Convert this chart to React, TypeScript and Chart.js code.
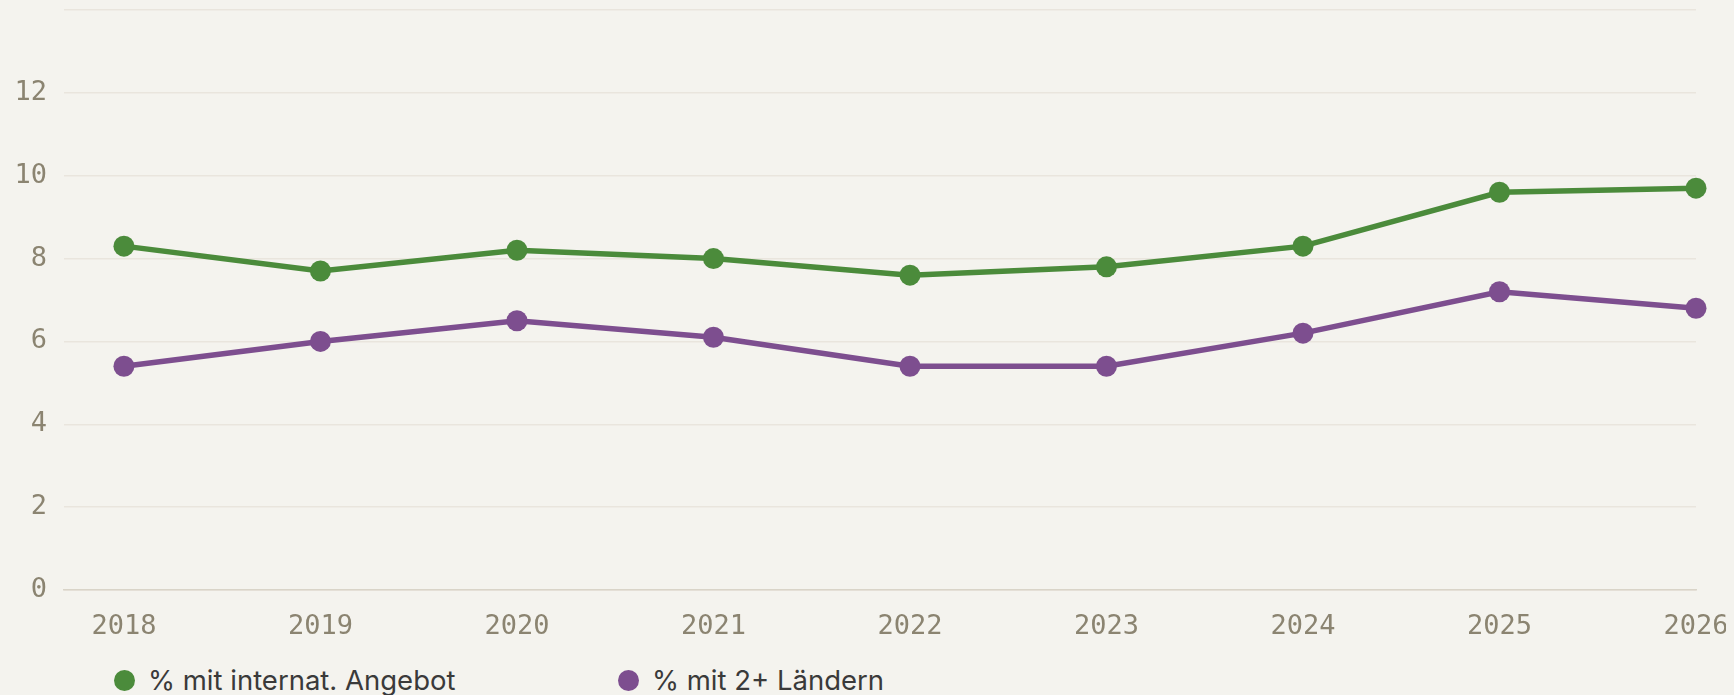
import React, { useEffect, useRef } from "react";
import { Chart, registerables } from "chart.js";

Chart.register(...registerables);

const years = [2018, 2019, 2020, 2021, 2022, 2023, 2024, 2025, 2026];
const internatValues = [8.3, 7.7, 8.2, 8.0, 7.6, 7.8, 8.3, 9.6, 9.7];
const multiCountryValues = [5.4, 6.0, 6.5, 6.1, 5.4, 5.4, 6.2, 7.2, 6.8];
const seriesLabels = ["% mit internat. Angebot", "% mit 2+ Ländern"];
const seriesColors = ["#4b8b3b", "#7d4e8f"];
const yTicks = [0, 2, 4, 6, 8, 10, 12, 14];

const BG = "#f4f3ee";
const GRID = "#e9e5dd";
const AXIS = "#d9d4c8";
const TICK = "#8b8471";

export default function App() {
  const canvasRef = useRef<HTMLCanvasElement | null>(null);

  useEffect(() => {
    document.body.style.background = BG;
    const canvas = canvasRef.current;
    if (!canvas) return;
    const chart = new Chart(canvas, {
      type: "line",
      data: {
        datasets: [internatValues, multiCountryValues].map((vals, i) => ({
          label: seriesLabels[i],
          data: vals.map((v, j) => ({ x: years[j], y: v })),
          borderColor: seriesColors[i],
          backgroundColor: seriesColors[i],
          borderWidth: 5.5,
          pointRadius: 10.5,
          pointHoverRadius: 10.5,
          pointBorderWidth: 0,
          pointBackgroundColor: seriesColors[i],
          tension: 0,
          fill: false,
          clip: 12,
        })),
      },
      options: {
        animation: false,
        responsive: false,
        maintainAspectRatio: false,
        layout: { autoPadding: false, padding: { left: 0, top: 2, right: 30, bottom: 7 } },
        plugins: {
          legend: { display: false },
          tooltip: { enabled: false },
        },
        scales: {
          x: {
            type: "linear",
            min: 2017.695,
            max: 2026,
            afterBuildTicks: (axis: any) => {
              axis.ticks = years.map((y) => ({ value: y }));
            },
            afterFit: (scale: any) => {
              scale.height = 51;
              scale.paddingLeft = 0;
              scale.paddingRight = 0;
            },
            grid: { display: false },
            border: { display: true, color: AXIS, width: 1.5 },
            ticks: {
              color: TICK,
              font: { family: "DejaVu Sans Mono", size: 27 },
              padding: 13,
              maxRotation: 0,
              autoSkip: false,
              callback: (v: any) => String(v),
            },
          },
          y: {
            min: 0,
            max: 14,
            afterBuildTicks: (axis: any) => {
              axis.ticks = yTicks.map((v) => ({ value: v }));
            },
            afterFit: (scale: any) => {
              scale.width = 56;
              scale.paddingTop = 0;
              scale.paddingBottom = 0;
            },
            grid: { color: GRID, lineWidth: 1.5, drawTicks: false },
            border: { display: false },
            ticks: {
              color: TICK,
              font: { family: "DejaVu Sans Mono", size: 27 },
              padding: 17,
              callback: (v: any) => (v === 14 ? [] : String(v)),
            },
          },
        },
      },
    });
    return () => chart.destroy();
  }, []);

  const legendLeft = [106, 610];

  return (
    <div style={{ position: "relative", width: 1718, height: 690, background: BG }}>
      <canvas ref={canvasRef} width={1718} height={640} style={{ display: "block", width: 1718, height: 640 }} />
      {seriesLabels.map((lab, i) => (
        <div
          key={lab}
          style={{
            position: "absolute",
            left: legendLeft[i],
            top: 657,
            height: 30,
            display: "flex",
            alignItems: "center",
            whiteSpace: "nowrap",
          }}
        >
          <span
            style={{
              display: "inline-block",
              width: 21,
              height: 21,
              borderRadius: "50%",
              background: seriesColors[i],
            }}
          />
          <span
            style={{
              marginLeft: 13,
              fontFamily: "Inter",
              fontSize: 27.5,
              color: "#3a3a3a",
              lineHeight: "30px",
            }}
          >
            {lab}
          </span>
        </div>
      ))}
    </div>
  );
}
